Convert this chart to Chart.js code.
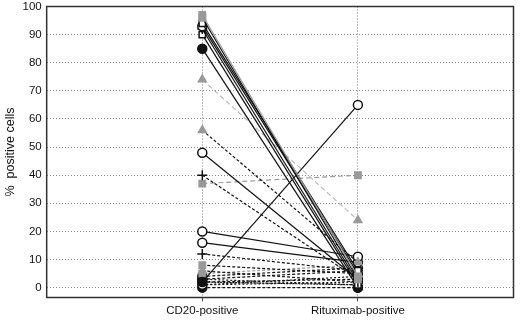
<!DOCTYPE html>
<html>
<head>
<meta charset="utf-8">
<script src="https://cdn.jsdelivr.net/npm/chart.js@4"></script>
<style>
  html, body { margin: 0; padding: 0; background: #fff; }
  #wrap { width: 520px; height: 321px; }
</style>
</head>
<body>
<div id="wrap"><canvas id="chart" width="520" height="321"></canvas></div>
<script>
// Data
const categories = ['CD20-positive', 'Rituximab-positive'];
const yTicks = [0, 10, 20, 30, 40, 50, 60, 70, 80, 90, 100];
const cd20Values      = [97, 96, 94, 93, 92, 90, 85, 74, 56, 48, 40, 37, 20, 16, 12, 2, 8, 6, 5, 4, 3, 2, 1, 0, 1, 3, 2];
const rituximabValues = [ 4,  3,  6,  5,  2,  1,  0, 24,  9,  3,  3, 40, 11,  9,  6, 65, 5, 2, 8, 7, 1, 3, 2, 0, 4, 6, 1];

// marker / line look per patient (start marker, end marker, line colour, dash)
const K = '#111', G = '#999', LG = '#bbb';
const seriesStyle = [
  ['gsq', 'gsq', G,  []],
  ['gsq', 'gsq', K,  []],
  ['osq', 'osq', K,  []],
  ['oci', 'oci', K,  []],
  ['cro', 'cro', K,  []],
  ['osq', 'osq', K,  []],
  ['bci', 'bci', K,  []],
  ['gtr', 'gtr', LG, [5, 3]],
  ['gtr', 'gtr', K,  [3, 2]],
  ['oci', 'oci', K,  []],
  ['cro', 'cro', K,  [3, 2]],
  ['gsq', 'gsq', G,  [5, 3]],
  ['oci', 'oci', K,  []],
  ['oci', 'oci', K,  []],
  ['cro', 'cro', K,  [3, 2]],
  ['bci', 'oci', K,  []],
  ['gsq', 'gsq', K,  [3, 2]],
  ['gtr', 'gtr', K,  [3, 2]],
  ['gsq', 'gsq', G,  [3, 2]],
  ['bci', 'bci', K,  [3, 2]],
  ['bci', 'bci', K,  [2, 2]],
  ['osq', 'osq', K,  [3, 2]],
  ['oci', 'oci', K,  [2, 2]],
  ['bci', 'bci', K,  [3, 2]],
  ['gsq', 'gsq', K,  [2, 2]],
  ['otr', 'otr', K,  [3, 2]],
  ['bci', 'bci', K,  [2, 1]]
];

const markers = {
  gsq: { pointStyle: 'rect',     radius: 4.5, bg: '#999', border: '#999' },
  osq: { pointStyle: 'rect',     radius: 4.5, bg: '#fff', border: '#111' },
  oci: { pointStyle: 'circle',   radius: 4.5, bg: '#fff', border: '#111' },
  bci: { pointStyle: 'circle',   radius: 4.5, bg: '#111', border: '#111' },
  cro: { pointStyle: 'cross',    radius: 5,   bg: '#111', border: '#111' },
  gtr: { pointStyle: 'triangle', radius: 4.5, bg: '#999', border: '#999' },
  otr: { pointStyle: 'triangle', radius: 4.5, bg: '#fff', border: '#111' }
};

const datasets = cd20Values.map((v, i) => {
  const [m0, m1, col, dash] = seriesStyle[i];
  const a = markers[m0], b = markers[m1];
  return {
    data: [{ x: 1, y: v }, { x: 2, y: rituximabValues[i] }],
    borderColor: col,
    borderWidth: 1.2,
    borderDash: dash,
    pointStyle: [a.pointStyle, b.pointStyle],
    pointRadius: [a.radius, b.radius],
    pointBackgroundColor: [a.bg, b.bg],
    pointBorderColor: [a.border, b.border],
    pointBorderWidth: [1.5, 1.5],
    tension: 0
  };
});

// plot frame
const framePlugin = {
  id: 'frame',
  afterDraw(chart) {
    const { ctx, chartArea: c } = chart;
    ctx.save();
    ctx.strokeStyle = '#333';
    ctx.lineWidth = 1.5;
    ctx.strokeRect(c.left, c.top, c.right - c.left, c.bottom - c.top);
    ctx.restore();
  }
};

const font = { family: '"Liberation Sans", Arial, sans-serif', size: 11.5, lineHeight: 1 };

new Chart(document.getElementById('chart'), {
  type: 'line',
  data: { datasets },
  plugins: [framePlugin],
  options: {
    responsive: false,
    animation: false,
    layout: { padding: { top: 0, right: 0, bottom: 0, left: 4 } },
    plugins: { legend: { display: false }, tooltip: { enabled: false } },
    scales: {
      x: {
        type: 'linear',
        min: 0, max: 3,
        afterBuildTicks: axis => { axis.ticks = categories.map((c, i) => ({ value: i + 1 })); },
        afterFit: axis => { axis.paddingLeft = 0; axis.paddingRight = 0; },
        ticks: { color: '#111', font, padding: 4, maxRotation: 0, callback: v => categories[v - 1] },
        grid: { color: '#777', lineWidth: 1, tickLength: 4, tickColor: '#555' },
        border: { display: false, dash: [1, 2] }
      },
      y: {
        min: -3.5, max: 100,
        afterBuildTicks: axis => { axis.ticks = yTicks.map(v => ({ value: v })); },
        afterFit: axis => { axis.paddingTop = 5; },
        ticks: { color: '#111', font, padding: 5 },
        grid: { color: '#888', lineWidth: 1, drawTicks: false },
        border: { display: false, dash: [1, 2] },
        title: { display: true, text: '%  positive cells', color: '#111', font: { ...font, size: 12.5 }, padding: { top: 0, bottom: 1 } }
      }
    }
  }
});
</script>
</body>
</html>
